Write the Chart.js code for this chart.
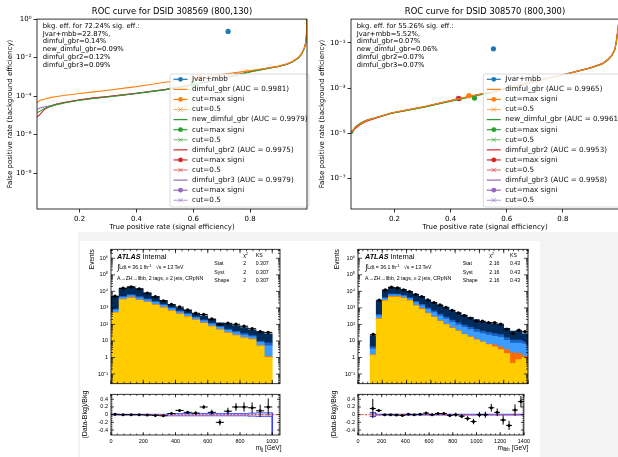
<!DOCTYPE html>
<html><head><meta charset="utf-8">
<script src="https://cdn.jsdelivr.net/npm/chart.js@4.4.1/dist/chart.umd.min.js"></script>
<style>
html,body{margin:0;padding:0;}
body{width:618px;height:457px;overflow:hidden;position:relative;background:#fff;}
canvas{position:absolute;}
.bg{position:absolute;}
</style></head><body>
<div class="bg" style="left:78px;top:232px;width:540px;height:225px;background:#f3f3f3"></div>
<div class="bg" style="left:80px;top:241px;width:460px;height:216px;background:#fff"></div>
<canvas id="roc1" width="312" height="235" style="left:0;top:0"></canvas>
<canvas id="roc2" width="312" height="235" style="left:312px;top:0"></canvas>
<canvas id="h1" width="205" height="147" style="left:80px;top:243px"></canvas>
<canvas id="r1" width="205" height="69" style="left:80px;top:388px"></canvas>
<canvas id="h2" width="203" height="147" style="left:330px;top:243px"></canvas>
<canvas id="r2" width="203" height="69" style="left:330px;top:388px"></canvas>
<script>
// ---------------- DATA ----------------
const ROC_MODELS = ['dimful_gbr','new_dimful_gbr','dimful_gbr2','dimful_gbr3'];
const ROC_X_TICKS = [0.2,0.4,0.6,0.8];
const ROC_X_LABELS = ['0.2','0.4','0.6','0.8'];

// ROC 1 : DSID 308569 (800,130)
const ROC1_TITLE = 'ROC curve for DSID 308569 (800,130)';
const ROC1_NOTE = ['bkg. eff. for 72.24% sig. eff.:','Jvar+mbb=22.87%,','dimful_gbr=0.14%','new_dimful_gbr=0.09%','dimful_gbr2=0.12%','dimful_gbr3=0.09%'];
const ROC1_AUC = ['0.9981','0.9979','0.9975','0.9979'];
const ROC1_Y_TICKS = [1e-8,1e-6,1e-4,1e-2,1];
const ROC1_Y_LABELS = ['10⁻⁸','10⁻⁶','10⁻⁴','10⁻²','10⁰'];
const ROC1_TPR = [0.05,0.06,0.07,0.08,0.1,0.12,0.15,0.2,0.25,0.3,0.35,0.4,0.45,0.5,0.6,0.7,0.8,0.85,0.9,0.93,0.95,0.97,0.98,0.99,0.995,0.998,1.0];
const ROC1_FPR_DIMFUL = [4.5e-5,6e-5,6.5e-5,7.2e-5,8.5e-5,9.5e-5,1.1e-4,1.35e-4,1.65e-4,2e-4,2.5e-4,3.1e-4,4e-4,5.2e-4,8e-4,1.3e-3,2.1e-3,2.7e-3,3.6e-3,4.8e-3,6.5e-3,1.0e-2,1.5e-2,3e-2,6e-2,0.15,1];
const ROC1_FPR_NEW = [1.4e-5,1.6e-5,2e-5,2.4e-5,3e-5,3.6e-5,4.5e-5,6e-5,7.5e-5,9e-5,1.1e-4,1.35e-4,1.7e-4,2.1e-4,3.8e-4,8e-4,1.8e-3,2.5e-3,3.4e-3,4.5e-3,6e-3,9.5e-3,1.4e-2,2.8e-2,5e-2,0.12,1];
const ROC1_FPR_GBR2 = [8e-6,1.1e-5,1.6e-5,2.2e-5,3e-5,3.8e-5,4.8e-5,6.3e-5,8e-5,9.5e-5,1.15e-4,1.4e-4,1.75e-4,2.2e-4,4e-4,8.5e-4,1.9e-3,2.6e-3,3.5e-3,4.6e-3,6.2e-3,1e-2,1.5e-2,3e-2,5.5e-2,0.13,1];
const ROC1_FPR_GBR3 = [2e-5,2.4e-5,2.6e-5,2.8e-5,3.2e-5,3.8e-5,4.7e-5,6.2e-5,7.8e-5,9.3e-5,1.12e-4,1.38e-4,1.72e-4,2.15e-4,3.9e-4,8.2e-4,1.85e-3,2.55e-3,3.45e-3,4.55e-3,6.1e-3,9.8e-3,1.45e-2,2.9e-2,5.2e-2,0.125,1];
const ROC1_JVAR = [0.7224, 0.2287];
const ROC1_MAXSIG_X = [0.62,0.6,0.6,0.6];
const ROC1_MAXSIG_Y = [9e-4,3.8e-4,4e-4,3.9e-4];
const ROC1_CUT05_X = [0.786,0.75,0.75,0.75];
const ROC1_CUT05_Y = [2e-3,1.3e-3,1.35e-3,1.3e-3];

// ROC 2 : DSID 308570 (800,300)
const ROC2_TITLE = 'ROC curve for DSID 308570 (800,300)';
const ROC2_NOTE = ['bkg. eff. for 55.26% sig. eff.:','Jvar+mbb=5.52%,','dimful_gbr=0.07%','new_dimful_gbr=0.06%','dimful_gbr2=0.07%','dimful_gbr3=0.07%'];
const ROC2_AUC = ['0.9965','0.9961','0.9953','0.9958'];
const ROC2_Y_TICKS = [1e-7,1e-5,1e-3,1e-1];
const ROC2_Y_LABELS = ['10⁻⁷','10⁻⁵','10⁻³','10⁻¹'];
const ROC2_TPR = [0.045,0.05,0.06,0.08,0.1,0.13,0.16,0.19,0.25,0.31,0.37,0.43,0.5,0.55,0.6,0.65,0.7,0.75,0.8,0.85,0.9,0.94,0.96,0.975,0.985,0.99,0.995,1.0];
const ROC2_FPR_DIMFUL = [1.1e-5,1.3e-5,1.8e-5,2.7e-5,3.6e-5,4.8e-5,6.2e-5,8e-5,1.1e-4,1.55e-4,2.3e-4,3.4e-4,5.2e-4,7e-4,1e-3,1.4e-3,2e-3,2.8e-3,3.8e-3,5.5e-3,8e-3,1.2e-2,1.8e-2,2.8e-2,5e-2,0.1,0.3,1];
const ROC2_FPR_NEW = [1e-5,1e-5,1.9e-5,2.9e-5,3.8e-5,4.8e-5,6e-5,7.6e-5,1.05e-4,1.45e-4,2.1e-4,3.1e-4,4.8e-4,6.6e-4,9.5e-4,1.35e-3,1.95e-3,2.75e-3,3.8e-3,5.4e-3,7.8e-3,1.15e-2,1.7e-2,2.7e-2,4.8e-2,0.095,0.28,1];
const ROC2_FPR_GBR2 = [1.1e-5,1.2e-5,1.6e-5,2.5e-5,3.4e-5,4.5e-5,5.9e-5,7.7e-5,1.08e-4,1.5e-4,2.25e-4,3.3e-4,5.1e-4,6.9e-4,1e-3,1.42e-3,2.05e-3,2.85e-3,3.9e-3,5.6e-3,8.2e-3,1.22e-2,1.85e-2,2.9e-2,5.2e-2,0.11,0.32,1];
const ROC2_FPR_GBR3 = [1.2e-5,1.3e-5,1.7e-5,2.6e-5,3.5e-5,4.6e-5,6e-5,7.8e-5,1.08e-4,1.5e-4,2.25e-4,3.35e-4,5.1e-4,6.9e-4,1e-3,1.4e-3,2e-3,2.8e-3,3.85e-3,5.5e-3,8e-3,1.2e-2,1.8e-2,2.85e-2,5.1e-2,0.105,0.3,1];
const ROC2_JVAR = [0.5526, 0.0552];
const ROC2_MAXSIG_X = [0.465,0.485,0.43,0.427];
const ROC2_MAXSIG_Y = [4.6e-4,3.6e-4,3.4e-4,3.5e-4];
const ROC2_CUT05_X = [0.7,0.7,0.7,0.7];
const ROC2_CUT05_Y = [2e-3,1.95e-3,2.05e-3,2e-3];

// Histogram 1 : m_jj
const MJJ_CENTERS = [25,75,125,175,225,275,325,375,425,475,525,575,625,675,725,775,825,875,925,975];
const MJJ_YELLOW = [500,3160,3980,2880,2140,1480,1020,646,417,288,182,117,74,47,30,21,15,12,4.9,1.0];
const MJJ_ORANGE = [40,253,318,230,171,118,82,52,33,23,15,9,6,4,2.4,1.7,1.2,1.0,0.4,0.15];
const MJJ_LBLUE = [210,960,1207,1006,742,548,335,209,127,88,55,39,24,15,12,9.2,6.8,4.7,2.8,4.0];
const MJJ_BLUE = [141,640,805,670,495,366,223,140,84,58,36,26,16,10,8,6.1,4.5,3.2,1.9,2.6];
const MJJ_NAVY = [4109,10488,12290,9314,4392,2278,1090,503,359,251,169,140,80,50,54.5,47,37.5,26,23,19.7];
const MJJ_DATA = [5050,15500,18600,14100,7860,4690,2670,1600,1130,750,475,397,212,101,117,102,78,55,36,33];
const MJJ_RATIO = [0.01,0,0,0,-0.01,-0.02,-0.03,0.03,0.11,0.06,0.04,0.2,0.06,-0.2,0.09,0.2,0.2,0.18,0.1,0.2];
const MJJ_RATIO_ERR = [0.015,0.01,0.01,0.01,0.012,0.015,0.02,0.025,0.03,0.035,0.045,0.05,0.07,0.08,0.09,0.1,0.12,0.14,0.16,0.22];
const MJJ_BAND = [0.01,0.01,0.01,0.01,0.01,0.01,0.01,0.03,0.03,0.03,0.03,0.03,0.03,0.03,0.03,0.03,0.03,0.04,0.05,0.05];
const MJJ_X_TICKS = [0,200,400,600,800,1000];
const MJJ_X_LABELS = ['0','200','400','600','800','1000'];
const MJJ_STATS = [['Stat','2','0.307'],['Syst','2','0.307'],['Shape','2','0.307']];

// Histogram 2 : m_llbb
const MLLBB_CENTERS = [125,175,225,275,325,375,425,475,525,575,625,675,725,775,825,875,925,975,1025,1075,1125,1175,1225,1275,1325,1375];
const MLLBB_YELLOW = [1.38,214,2630,4571,4571,3802,2630,1318,832,457,269,155,98,59,39,24.5,17,11.7,8.5,6.0,4.4,3.0,1.74,0.44,0.76,1.0];
const MLLBB_ORANGE = [0.1,17,210,366,366,304,210,105,67,37,22,12,8,5,3,2,1.4,1,0.7,0.5,1.5,1.2,1.3,1.5,1.0,0.2];
const MLLBB_LBLUE = [1.8,100,797,1285,1189,989,797,653,457,304,222,150,101,71,50,39,30,22,18.5,16,13,12,7.7,5.6,5.7,5.3];
const MLLBB_BLUE = [1.2,67,532,857,792,659,532,436,304,202,148,100,68,47,34,26,20,15,12.3,10.5,8.6,7.8,5.1,3.7,3.7,3.5];
const MLLBB_NAVY = [16.9,2232,7851,10701,9302,6836,5381,4095,3126,1884,1428,1028,772,542,375,272,200,145,115,96,79.5,74,43,27.8,27.8,17];
const MLLBB_DATA = [24.8,2919,12020,17780,16060,12340,9646,6607,4834,2999,2089,1488,1078,710,501,348,242,160,155,129,126,104,51,28,44,36];
const MLLBB_RATIO = [0.16,0.11,0,0,-0.01,-0.02,0.01,0,0.01,0.04,0,0.03,0.03,-0.02,0,-0.04,-0.1,-0.18,0,0,0.18,0.06,-0.14,-0.28,0.12,0.34];
const MLLBB_RATIO_ERR = [0.25,0.03,0.01,0.01,0.01,0.01,0.012,0.015,0.017,0.02,0.025,0.03,0.035,0.04,0.05,0.05,0.06,0.07,0.07,0.08,0.1,0.1,0.12,0.12,0.15,0.15];
const MLLBB_BAND = [0.05,0.012,0.012,0.012,0.012,0.012,0.012,0.012,0.012,0.012,0.012,0.012,0.012,0.012,0.012,0.012,0.012,0.012,0.012,0.012,0.012,0.012,0.012,0.012,0.012,0.012];
const MLLBB_X_TICKS = [0,200,400,600,800,1000,1200,1400];
const MLLBB_X_LABELS = ['0','200','400','600','800','1000','1200','1400'];
const MLLBB_STATS = [['Stat','2.16','0.43'],['Syst','2.16','0.43'],['Shape','2.16','0.43']];

const HIST_Y_TICKS = [0.1,1,10,100,1000,1e4,1e5,1e6];
const HIST_Y_LABELS = ['10⁻¹','1','10','10²','10³','10⁴','10⁵','10⁶'];
const RATIO_Y_TICKS = [-0.4,-0.2,0,0.2,0.4];
const RATIO_Y_LABELS = ['-0.4','-0.2','0','0.2','0.4'];

// ---------------- STYLE ----------------
const F_ROC = '"DejaVu Sans", sans-serif';
const F_HIST = '"Liberation Sans", Arial, sans-serif';
const JVAR_COLOR = '#1f77b4';
const MODEL_COLORS = ['#ff7f0e','#2ca02c','#d62728','#9467bd'];
const MODEL_LIGHT = ['rgba(255,127,14,0.6)','rgba(44,160,44,0.6)','rgba(214,39,40,0.6)','rgba(148,103,189,0.6)'];
const STACK_COLORS = ['#ffcc00','#ff6a00','#3c9cff','#1a62c4','#002b5a'];
const STACK_NAMES = ['bkg1','bkg2','bkg3','bkg4','bkg5'];

// minor tick positions (axis decoration only)
const LOG_MINOR = [];
for (let e = -2; e <= 6; e++) for (let k = 2; k <= 9; k++) LOG_MINOR.push(k * Math.pow(10, e));
const minorLin = (a, b, s) => { const r = []; for (let v = a; v <= b + 1e-9; v += s) r.push(+v.toFixed(4)); return r; };

// ---------------- PLUGINS ----------------
const framePlugin = {
  id:'frame',
  afterDraw(chart, args, o) {
    const {ctx, chartArea:a} = chart;
    ctx.save();
    ctx.strokeStyle = o.color || '#000'; ctx.lineWidth = o.width || 1;
    ctx.strokeRect(a.left, a.top, a.right - a.left, a.bottom - a.top);
    const xs = chart.scales.x, ys = chart.scales.y;
    const drawX = (vals, L) => (vals || []).forEach(v => {
      const p = xs.getPixelForValue(v);
      if (p < a.left - 0.5 || p > a.right + 0.5) return;
      ctx.moveTo(p, a.bottom); ctx.lineTo(p, a.bottom - L);
      ctx.moveTo(p, a.top); ctx.lineTo(p, a.top + L);
    });
    const drawY = (vals, L) => (vals || []).forEach(v => {
      const p = ys.getPixelForValue(v);
      if (p < a.top - 0.5 || p > a.bottom + 0.5) return;
      ctx.moveTo(a.left, p); ctx.lineTo(a.left + L, p);
      ctx.moveTo(a.right, p); ctx.lineTo(a.right - L, p);
    });
    ctx.beginPath();
    const L = o.len || 4;
    drawX(o.xTicks, L); drawY(o.yTicks, L);
    drawX(o.xMinor, L / 2); drawY(o.yMinor, L / 2);
    ctx.lineWidth = 0.7;
    ctx.stroke();
    ctx.restore();
  }
};

const textPlugin = {
  id:'texts',
  afterDraw(chart, args, o) {
    const ctx = chart.ctx;
    (o.items || []).forEach(it => {
      ctx.save();
      ctx.fillStyle = it.color || '#000';
      ctx.textBaseline = 'middle';
      const runs = it.runs || [{t:it.text, f:it.font}];
      let total = 0;
      runs.forEach(r => { ctx.font = r.f; total += ctx.measureText(r.t).width; });
      let x = it.align === 'right' ? it.x - total : it.x;
      ctx.textAlign = 'left';
      runs.forEach(r => {
        ctx.font = r.f;
        ctx.fillText(r.t, x, it.y + (r.dy || 0));
        x += ctx.measureText(r.t).width;
      });
      ctx.restore();
    });
  }
};

const boxLegendPlugin = {
  id:'boxLegend',
  afterDatasetsDraw(chart, args, o) {
    const ctx = chart.ctx;
    ctx.save();
    ctx.beginPath();
    if (ctx.roundRect) ctx.roundRect(o.x, o.y, o.w, o.h, 2); else ctx.rect(o.x, o.y, o.w, o.h);
    ctx.fillStyle = 'rgba(255,255,255,0.85)'; ctx.fill();
    ctx.strokeStyle = '#d0d0d0'; ctx.lineWidth = 0.8; ctx.stroke();
    ctx.font = o.font; ctx.textBaseline = 'middle';
    chart.data.datasets.forEach((ds, i) => {
      const cy = o.y + o.first + i * o.row;
      const x0 = o.x + o.lineX0, x1 = x0 + o.lineLen, mx = (x0 + x1) / 2;
      ctx.strokeStyle = ds.borderColor; ctx.lineWidth = 1.2;
      ctx.beginPath(); ctx.moveTo(x0, cy); ctx.lineTo(x1, cy); ctx.stroke();
      if (ds.mk === 'circle') {
        ctx.fillStyle = ds.backgroundColor; ctx.beginPath(); ctx.arc(mx, cy, 2.4, 0, Math.PI * 2); ctx.fill();
      } else if (ds.mk === 'cross') {
        ctx.lineWidth = 1; ctx.beginPath();
        ctx.moveTo(mx - 2.2, cy - 2.2); ctx.lineTo(mx + 2.2, cy + 2.2);
        ctx.moveTo(mx - 2.2, cy + 2.2); ctx.lineTo(mx + 2.2, cy - 2.2); ctx.stroke();
      }
      ctx.fillStyle = '#111';
      ctx.fillText(ds.label, o.x + o.textX, cy);
    });
    ctx.restore();
  }
};

const errPlugin = {
  id:'errbars',
  afterDatasetsDraw(chart) {
    const {ctx, chartArea:a} = chart; const xs = chart.scales.x, ys = chart.scales.y;
    ctx.save();
    ctx.beginPath(); ctx.rect(a.left, a.top, a.right - a.left, a.bottom - a.top); ctx.clip();
    chart.data.datasets.forEach(ds => {
      if (!ds.errY) return;
      ctx.strokeStyle = '#000'; ctx.lineWidth = 1;
      ctx.beginPath();
      ds.data.forEach((p, i) => {
        const x = xs.getPixelForValue(p.x), y = ys.getPixelForValue(p.y);
        const xl = xs.getPixelForValue(p.x - ds.errX), xr = xs.getPixelForValue(p.x + ds.errX);
        const e = ds.errY[i] * (ds.errRel ? p.y : 1);
        const lo = ds.errRel ? Math.max(p.y - e, ys.min) : p.y - e;
        ctx.moveTo(xl, y); ctx.lineTo(xr, y);
        ctx.moveTo(x, ys.getPixelForValue(p.y + e)); ctx.lineTo(x, ys.getPixelForValue(lo));
      });
      ctx.stroke();
    });
    ctx.restore();
  }
};

// ---------------- ROC CHARTS ----------------
function makeRoc(id, c) {
  const ds = [];
  ds.push({label:'Jvar+mbb', data:[{x:c.jvar[0], y:c.jvar[1]}], showLine:false, borderColor:JVAR_COLOR, backgroundColor:JVAR_COLOR, pointRadius:2.6, pointBorderWidth:0, mk:'circle'});
  ROC_MODELS.forEach((m, i) => {
    const col = MODEL_COLORS[i];
    ds.push({label:`${m} (AUC = ${c.auc[i]})`, data:c.tpr.map((x, j) => ({x, y:c.fpr[i][j]})), borderColor:col, backgroundColor:col, borderWidth:1.1, pointRadius:0, mk:null});
    ds.push({label:'cut=max signi', data:[{x:c.maxX[i], y:c.maxY[i]}], showLine:false, borderColor:col, backgroundColor:col, pointRadius:2.6, pointBorderWidth:0, mk:'circle'});
    ds.push({label:'cut=0.5', data:[{x:c.cutX[i], y:c.cutY[i]}], showLine:false, borderColor:MODEL_LIGHT[i], backgroundColor:MODEL_LIGHT[i], pointStyle:'crossRot', pointRadius:3, pointBorderWidth:1, mk:'cross'});
  });
  const tickFont = {family:F_ROC, size:7};
  const items = c.note.map((t, k) => ({text:t, font:`6.8px ${F_ROC}`, x:c.noteX, y:26 + k * 7.8}));
  return new Chart(document.getElementById(id), {
    type:'line',
    data:{datasets:ds},
    options:{
      responsive:false, maintainAspectRatio:false, animation:false, devicePixelRatio:1, events:[],
      layout:{padding:{left:0, right:c.padR, top:0, bottom:0}},
      scales:{
        x:{type:'linear', min:c.xmin, max:1.0, offset:false,
          afterBuildTicks:s => { s.ticks = ROC_X_TICKS.map(v => ({value:v})); },
          afterFit:s => { s.height = 26; },
          ticks:{callback:(v, i) => ROC_X_LABELS[i], font:tickFont, color:'#000', padding:2, maxRotation:0, autoSkip:false},
          grid:{drawOnChartArea:false, drawTicks:true, tickLength:3.5, color:'#000', lineWidth:0.8},
          border:{display:false},
          title:{display:true, text:'True positive rate (signal efficiency)', font:tickFont, color:'#000', padding:{top:0, bottom:4}}},
        y:{type:'logarithmic', min:c.ymin, max:c.ymax,
          afterBuildTicks:s => { s.ticks = c.yTicks.map(v => ({value:v})); },
          afterFit:s => { s.width = c.yW; },
          ticks:{callback:(v, i) => c.yLabels[i], font:tickFont, color:'#000', padding:2, autoSkip:false},
          grid:{drawOnChartArea:false, drawTicks:true, tickLength:3.5, color:'#000', lineWidth:0.8},
          border:{display:false},
          title:{display:true, text:'False positive rate (background efficiency)', font:tickFont, color:'#000', padding:{top:6, bottom:0}}}
      },
      plugins:{
        legend:{display:false}, tooltip:{enabled:false},
        title:{display:true, text:c.title, font:{family:F_ROC, size:8.4, weight:'normal'}, color:'#000', padding:{top:7, bottom:2}, fullSize:false},
        frame:{color:'#000', width:0.8},
        boxLegend:{x:c.legX, y:74, w:139, h:133, first:5.3, row:10.08, lineX0:3.5, lineLen:14, textX:22, font:`7.2px ${F_ROC}`},
        texts:{items}
      }
    },
    plugins:[framePlugin, boxLegendPlugin, textPlugin]
  });
}

makeRoc('roc1', {title:ROC1_TITLE, note:ROC1_NOTE, noteX:42.7, auc:ROC1_AUC, tpr:ROC1_TPR,
  fpr:[ROC1_FPR_DIMFUL, ROC1_FPR_NEW, ROC1_FPR_GBR2, ROC1_FPR_GBR3], jvar:ROC1_JVAR,
  maxX:ROC1_MAXSIG_X, maxY:ROC1_MAXSIG_Y, cutX:ROC1_CUT05_X, cutY:ROC1_CUT05_Y,
  xmin:0.05, ymin:1.35e-10, ymax:1, yTicks:ROC1_Y_TICKS, yLabels:ROC1_Y_LABELS, yW:37, padR:3, legX:170});
makeRoc('roc2', {title:ROC2_TITLE, note:ROC2_NOTE, noteX:44.7, auc:ROC2_AUC, tpr:ROC2_TPR,
  fpr:[ROC2_FPR_DIMFUL, ROC2_FPR_NEW, ROC2_FPR_GBR2, ROC2_FPR_GBR3], jvar:ROC2_JVAR,
  maxX:ROC2_MAXSIG_X, maxY:ROC2_MAXSIG_Y, cutX:ROC2_CUT05_X, cutY:ROC2_CUT05_Y,
  xmin:0.045, ymin:4.3e-9, ymax:1.15, yTicks:ROC2_Y_TICKS, yLabels:ROC2_Y_LABELS, yW:39, padR:2, legX:171.3});

// ---------------- HISTOGRAMS ----------------
function makeHist(id, h) {
  const comps = [h.yellow, h.orange, h.lblue, h.blue, h.navy];
  const datasets = [
    {type:'scatter', label:'Data', data:h.centers.map((x, i) => ({x, y:h.data[i]})), backgroundColor:'#000', borderColor:'#000', pointRadius:1.7, pointBorderWidth:0, order:0, stack:'data', errX:25, errY:h.rerr, errRel:true}
  ].concat(comps.map((vals, k) => ({
    type:'bar', label:STACK_NAMES[k], data:h.centers.map((x, i) => ({x, y:vals[i]})),
    backgroundColor:STACK_COLORS[k], borderWidth:0, barPercentage:1, categoryPercentage:1, order:1, stack:'bkg'
  })));
  const tf = {family:F_HIST, size:5.5};
  const f52 = `5.2px ${F_HIST}`;
  const items = [
    {x:h.tx, y:13.7, runs:[{t:'ATLAS', f:`italic bold 7.2px ${F_HIST}`}, {t:' Internal', f:`7.2px ${F_HIST}`}]},
    {x:h.tx, y:24.3, runs:[{t:'∫', f:`8px ${F_HIST}`, dy:0.5}, {t:'Ldt = 36.1 fb', f:f52}, {t:'-1', f:`3.6px ${F_HIST}`, dy:-1.8}]},
    {x:h.tx + 39, y:24.3, runs:[{t:'√s = 13 TeV', f:f52}]},
    {x:h.tx, y:35.3, text:'A→ZH→llbb, 2 tags, ≥ 2 jets, CRpNN', font:f52},
    {x:h.sx2, y:12.7, runs:[{t:'χ', f:f52}, {t:'2', f:`3.6px ${F_HIST}`, dy:-1.6}]},
    {x:h.sx3, y:12.7, text:'KS', font:f52}
  ];
  h.stats.forEach((r, k) => {
    const y = 21 + k * 8.5;
    items.push({x:h.sx1, y, text:r[0], font:f52});
    items.push({x:h.sx2, y, text:r[1], font:f52});
    items.push({x:h.sx3, y, text:r[2], font:f52});
  });
  return new Chart(document.getElementById(id), {
    type:'bar',
    data:{datasets},
    options:{
      responsive:false, maintainAspectRatio:false, animation:false, devicePixelRatio:1, events:[],
      layout:{padding:{left:0, right:5, top:6, bottom:3}},
      scales:{
        x:{type:'linear', min:0, max:h.xmax, display:false, offset:false, stacked:true},
        y:{type:'logarithmic', min:0.026, max:3.5e6, stacked:true,
          afterBuildTicks:s => { s.ticks = HIST_Y_TICKS.map(v => ({value:v})); },
          afterFit:s => { s.width = h.yW; },
          ticks:{callback:(v, i) => HIST_Y_LABELS[i], font:tf, color:'#000', padding:3, autoSkip:false},
          grid:{display:false, drawTicks:false}, border:{display:false},
          title:{display:true, text:'Events', align:'end', font:{family:F_HIST, size:6.5}, color:'#000', padding:{top:h.titlePad, bottom:0}}}
      },
      plugins:{
        legend:{display:false}, tooltip:{enabled:false},
        frame:{color:'#000', width:0.8, xTicks:h.xTicks, yTicks:HIST_Y_TICKS, xMinor:minorLin(0, h.xmax, 40), yMinor:LOG_MINOR, len:4},
        texts:{items}
      }
    },
    plugins:[errPlugin, framePlugin, textPlugin]
  });
}

function makeRatio(id, h) {
  const upper = h.centers.flatMap((c, i) => [{x:c - 25, y:h.band[i]}, {x:c + 25, y:h.band[i]}]);
  const lower = h.centers.flatMap((c, i) => [{x:c - 25, y:-h.band[i]}, {x:c + 25, y:-h.band[i]}]);
  const datasets = [
    {type:'scatter', label:'Data/Bkg', data:h.centers.map((x, i) => ({x, y:h.ratio[i]})), backgroundColor:'#000', borderColor:'#000', pointRadius:1.5, pointBorderWidth:0, order:0, errX:25, errY:h.rerr},
    {type:'line', label:'zero', data:[{x:0, y:0}, {x:h.xmax, y:0}], borderColor:'#e04040', borderDash:[2, 1.5], borderWidth:1, pointRadius:0, order:1},
    {type:'line', label:'band up', data:upper, borderColor:'#3a3aff', borderWidth:0.8, pointRadius:0, fill:false, order:2},
    {type:'line', label:'band down', data:lower, borderColor:'#3a3aff', borderWidth:0.8, pointRadius:0, fill:'-1', backgroundColor:'rgba(150,150,225,0.45)', order:2}
  ].concat(h.extra || []);
  const tf = {family:F_HIST, size:5.5};
  return new Chart(document.getElementById(id), {
    type:'scatter',
    data:{datasets},
    options:{
      responsive:false, maintainAspectRatio:false, animation:false, devicePixelRatio:1, events:[],
      layout:{padding:{left:0, right:5, top:3, bottom:0}},
      scales:{
        x:{type:'linear', min:0, max:h.xmax, offset:false,
          afterBuildTicks:s => { s.ticks = h.xTicks.map(v => ({value:v})); },
          afterFit:s => { s.height = 22; },
          ticks:{callback:(v, i) => h.xLabels[i], font:tf, color:'#000', padding:3, maxRotation:0, autoSkip:false},
          grid:{display:false, drawTicks:false}, border:{display:false}},
        y:{type:'linear', min:-0.53, max:0.53,
          afterBuildTicks:s => { s.ticks = RATIO_Y_TICKS.map(v => ({value:v})); },
          afterFit:s => { s.width = h.yW; },
          ticks:{callback:(v, i) => RATIO_Y_LABELS[i], font:tf, color:'#000', padding:3, autoSkip:false},
          grid:{display:false, drawTicks:false}, border:{display:false},
          title:{display:true, text:'(Data-Bkg)/Bkg', font:{family:F_HIST, size:7}, color:'#000', padding:{top:h.rTitlePad, bottom:0}}}
      },
      plugins:{
        legend:{display:false}, tooltip:{enabled:false},
        frame:{color:'#000', width:0.8, xTicks:h.xTicks, yTicks:RATIO_Y_TICKS, xMinor:minorLin(0, h.xmax, 40), yMinor:minorLin(-0.5, 0.5, 0.05), len:3},
        texts:{items:[{x:h.xtX, y:60.5, align:'right', runs:[{t:'m', f:`6.5px ${F_HIST}`}, {t:h.sub, f:`4.5px ${F_HIST}`, dy:1.6}, {t:' [GeV]', f:`6.5px ${F_HIST}`}]}]}
      }
    },
    plugins:[errPlugin, framePlugin, textPlugin]
  });
}

makeHist('h1', {centers:MJJ_CENTERS, yellow:MJJ_YELLOW, orange:MJJ_ORANGE, lblue:MJJ_LBLUE, blue:MJJ_BLUE, navy:MJJ_NAVY,
  data:MJJ_DATA, rerr:MJJ_RATIO_ERR, xmax:1048, xTicks:MJJ_X_TICKS, yW:31, titlePad:8,
  tx:37, sx1:134.3, sx2:163.3, sx3:175.7, stats:MJJ_STATS});
makeRatio('r1', {centers:MJJ_CENTERS, ratio:MJJ_RATIO, rerr:MJJ_RATIO_ERR, band:MJJ_BAND, xmax:1048,
  xTicks:MJJ_X_TICKS, xLabels:MJJ_X_LABELS, yW:31, rTitlePad:1, xtX:201.5, sub:'jj',
  extra:[{type:'line', label:'edge', data:[{x:1000, y:0.05}, {x:1000, y:-0.6}], borderColor:'#3a3aff', borderWidth:1, pointRadius:0, order:2}]});

makeHist('h2', {centers:MLLBB_CENTERS, yellow:MLLBB_YELLOW, orange:MLLBB_ORANGE, lblue:MLLBB_LBLUE, blue:MLLBB_BLUE, navy:MLLBB_NAVY,
  data:MLLBB_DATA, rerr:MLLBB_RATIO_ERR, xmax:1400, xTicks:MLLBB_X_TICKS, yW:28, titlePad:3,
  tx:35, sx1:132.7, sx2:159.3, sx3:180, stats:MLLBB_STATS});
makeRatio('r2', {centers:MLLBB_CENTERS, ratio:MLLBB_RATIO, rerr:MLLBB_RATIO_ERR, band:MLLBB_BAND, xmax:1400,
  xTicks:MLLBB_X_TICKS, xLabels:MLLBB_X_LABELS, yW:28, rTitlePad:0, xtX:198.3, sub:'llbb',
  extra:[
    {type:'line', label:'first up', data:[{x:100, y:0.05}, {x:150, y:0.05}], borderColor:'#3a3aff', borderWidth:0.8, pointRadius:0, fill:false, order:3},
    {type:'line', label:'first down', data:[{x:100, y:-0.05}, {x:150, y:-0.05}], borderColor:'#3a3aff', borderWidth:0.8, pointRadius:0, fill:'-1', backgroundColor:'rgba(240,160,150,0.7)', order:3}
  ]});
</script>
</body></html>
